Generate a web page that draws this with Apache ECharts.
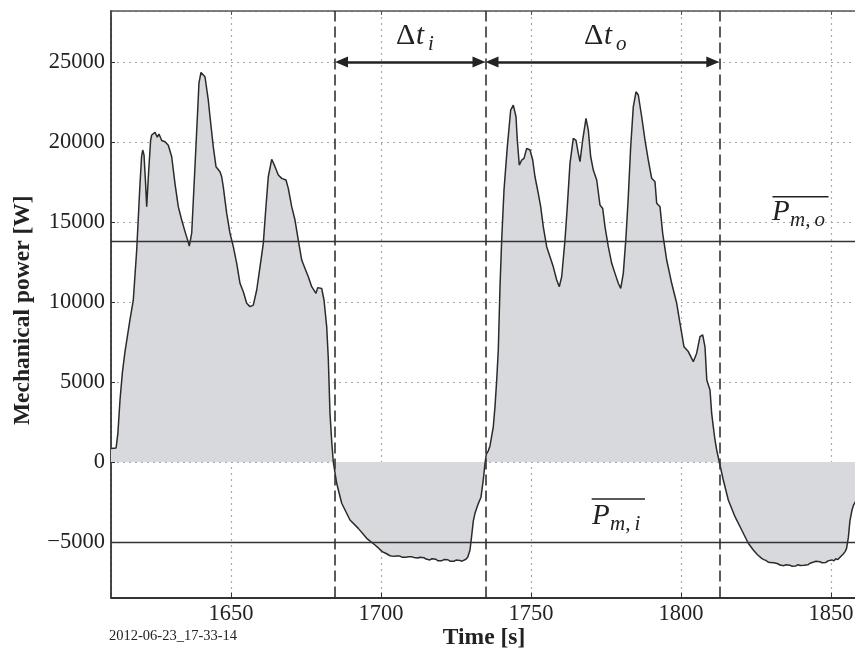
<!DOCTYPE html>
<html><head><meta charset="utf-8">
<script src="https://cdn.jsdelivr.net/npm/echarts@6/dist/echarts.min.js"></script>
<style>html,body{margin:0;padding:0;background:#fff}#c{width:855px;height:650px}</style>
</head><body><div id="c"></div>
<script>
// ---- data ----
const times = [
 1610,1611.7,1612.3,1613,1613.8,1614.67,1615.5,1616.33,1617.43,1618.57,1619.67,1620.2,1620.57,1621,1621.5,1621.9,
 1622.5,1623.2,1623.57,1624.2,1624.67,1625.43,1626.0,1626.33,1626.9,1628,1629.1,1630.23,1631.33,1632.43,1633.57,
 1634.67,1635.5,1636.1,1636.9,1638,1638.9,1639.33,1640.0,1640.43,1641.33,1642.43,1643,1644.1,1645,1646.33,1646.9,
 1647.43,1648.57,1649.67,1650.77,1651.9,1653,1654.1,1655.23,1656.33,1657.43,1658.57,1659.67,1660.77,1661.57,1662.43,
 1663.57,1664.67,1665.77,1666.9,1668.33,1669.1,1670.23,1671.33,1672.43,1673.57,1674.67,1675.77,1676.9,1678.33,
 1678.9,1679.43,1680.23,1681,1681.9,1682.43,1683,1683.6,1684.1,1685.23,1686.9,1689.67,1692.43,1695.23,
 1698,1699,1699.7,1700.4,1701,1701.7,1702.3,1703,1703.6,1704.3,1705,1705.6,1706.3,1707,1707.6,1708.3,1709,1709.6,
 1710.3,1711,1711.6,1712.3,1713,1713.6,1714.3,1715,1715.6,1716.3,1717,1717.6,1718.3,1719,1719.6,1720.3,1721,1721.6,
 1722.3,1723,1723.6,1724.3,1725,1725.6,1726.3,1727,1727.6,1728.3,1728.9,
 1729.67,1730.23,1730.77,1731.33,1732.43,1733.33,1734.1,1734.67,1735.1,1735.77,1736.33,1737.43,1738,1738.57,1739.1,
 1739.67,1740.23,1741,1742.1,1743.23,1744.1,1745,1745.43,1746.1,1746.9,1747.67,1748.57,1749.67,1750.57,1751.33,
 1752.43,1753.23,1754.1,1755.23,1756.33,1757.43,1758.57,1759.43,1760.23,1761.33,1762.1,1763,1764.1,1765,1765.77,
 1766.33,1767.23,1768.33,1769.1,1769.9,1770.77,1771.9,1773,1773.9,1774.67,1775.77,1776.9,1778,1779.1,1779.9,
 1780.77,1781.67,1782.43,1783.23,1784.1,1785,1785.77,1786.9,1788,1789.1,1790.23,1791.33,1791.9,1793,1793.9,
 1795.23,1796.9,1798.57,1799.67,1801,1802.43,1804.1,1805.23,1806.33,1807.23,1808,1808.6,1809.67,1810.23,1810.77,
 1811.33,1811.9,1812.77,1814.1,1815.77,1818,1820.23,1822.43,1824.1,1825.5,
 1826.9,1827.6,1828.3,1829,1829.7,1830.3,1831,1831.6,1832.3,1833,1833.6,1834.3,1835,1835.6,1836.3,1837,1837.6,
 1838.3,1839,1839.7,1840.3,1841,1841.6,1842.3,1843,1843.6,1844.3,1845,1845.6,1846.3,1847,1847.6,1848.3,1849,
 1849.6,1850.3,1851,1851.6,1852.3,1853,1853.6,1854.1,1854.7,1855.2,1855.8,1856.3,1857,1857.5,1858.67
];
const power = [
 850,880,1800,3875,5600,6900,7900,8900,10125,13250,17400,19100,19500,19200,17500,15960,
 18000,20100,20440,20350,20600,20300,20500,20580,20100,20020,19800,19080,17400,15960,15125,
 14400,13900,13500,14300,18500,22000,23700,24350,24460,24080,22625,21580,19700,18460,18140,17830,
 17200,15540,14290,13460,12420,11170,10640,9920,9710,9810,10750,12200,13670,15750,17830,
 18920,18460,17940,17730,17625,17100,15960,15125,13875,12625,12100,11580,10960,10540,
 10900,10960,10850,10125,8460,6500,3040,1200,0,-1330,-2580,-3625,-4150,-4770,
 -5190,-5350,-5480,-5600,-5700,-5720,-5820,-5860,-5800,-5900,-5870,-5930,-5880,-5950,-5900,-5960,-5920,-5990,
 -5930,-5970,-5910,-6000,-5950,-6050,-5980,-6070,-6000,-6120,-6050,-6150,-6080,-6180,-6090,-6170,-6100,-6190,
 -6110,-6200,-6120,-6210,-6130,-6220,-6150,-6200,-6120,-6080,-5950,
 -5500,-4600,-3700,-3200,-2600,-2200,-1100,-100,500,700,1000,2200,3460,5125,7000,
 10960,13875,17000,19700,22000,22310,21580,20125,18560,18875,18980,19600,19500,18875,17830,
 16790,15960,14700,13460,12830,12200,11375,10960,11580,13875,15960,18670,20230,20100,19290,
 18770,20125,21480,20750,19080,18250,17625,16060,15850,14700,13460,12420,11790,11170,10850,
 11790,14080,16580,19700,22200,23140,22940,21580,20125,18875,17730,17520,16170,15960,14290,
 12625,11170,9920,8670,7200,6900,6270,6800,7830,7940,7200,5125,4500,3040,2200,
 1375,750,0,-1125,-2375,-3420,-4250,-5080,-5500,-5800,
 -6020,-6100,-6150,-6250,-6290,-6330,-6300,-6400,-6360,-6440,-6400,-6480,-6420,-6510,-6450,-6520,-6440,
 -6500,-6420,-6470,-6400,-6460,-6380,-6430,-6330,-6380,-6250,-6200,-6290,-6230,-6300,-6220,-6280,-6180,
 -6240,-6120,-6180,-6050,-6100,-5950,-5900,-5750,-5600,-5400,-4700,-3700,-3000,-2700,-2300
];
const dashedTimes = [1684.67, 1734.83, 1812.77];   // interval boundaries
const meanPower = [13770, -5000];                  // mean power levels
const arrowPower = 25000;                          // level of the Δt arrows
const xRange = [1610, 1858.67];
const yRange = [-8470, 28190];

const data = times.map((t, i) => [t, power[i]]);
const inset = 6.5 / 3; // half arrow head length (px) expressed in seconds

const serif = '"Liberation Serif", "Times New Roman", serif';
const chart = echarts.init(document.getElementById('c'), null, {renderer: 'canvas'});

const dotted = {color: '#a8a8a8', width: 1.2, type: [2, 4]};

function mathText(x, y, str, size, italic) {
  return {type: 'text', x: x, y: y, silent: true,
    style: {text: str, fontSize: size, fontFamily: serif, fontStyle: italic ? 'italic' : 'normal',
      fill: '#222', verticalAlign: 'middle', align: 'left'}};
}
// baseline -> middle position
function mid(baseline, size) { return baseline - 0.32 * size; }

const graphics = [
  // Δt_i
  mathText(396, mid(45.5, 30), 'Δ', 30, false),
  mathText(416, mid(45.5, 29), 't', 29, true),
  mathText(428, mid(51.5, 21), 'i', 21, true),
  // Δt_o
  mathText(584, mid(45.5, 30), 'Δ', 30, false),
  mathText(604, mid(45.5, 29), 't', 29, true),
  mathText(616, mid(51.5, 21), 'o', 21, true),
  // P_m,o with overline
  mathText(772, mid(222, 29), 'P', 29, true),
  mathText(790, mid(227, 21), 'm,\u2009o', 21, true),
  {type: 'line', silent: true, shape: {x1: 772.5, y1: 196.7, x2: 828.5, y2: 196.7}, style: {stroke: '#222', lineWidth: 1.4}},
  // P_m,i with overline
  mathText(592, mid(526, 29), 'P', 29, true),
  mathText(610, mid(531, 21), 'm,\u2009i', 21, true),
  {type: 'line', silent: true, shape: {x1: 591.7, y1: 499, x2: 645, y2: 499}, style: {stroke: '#222', lineWidth: 1.4}},
  // E_m,o
  mathText(573, mid(345, 29), 'E', 29, true),
  mathText(593, mid(350, 21), 'm,\u2009o', 21, true),
  // E_m,i
  mathText(395, mid(513, 29), 'E', 29, true),
  mathText(413, mid(518, 21), 'm,\u2009i', 21, true),
  // run id
  {type: 'text', x: 109, y: 636, silent: true,
   style: {text: '2012-06-23_17-33-14', fontSize: 14.5, fontFamily: serif, fill: '#222', verticalAlign: 'middle'}}
];

chart.setOption({
  animation: false,
  backgroundColor: '#fff',
  grid: {left: 111, right: -2, top: 11, bottom: 52.5, containLabel: false, outerBoundsMode: 'none'},
  xAxis: [{
    type: 'value', min: xRange[0], max: xRange[1], splitNumber: 5,
    name: 'Time [s]', nameLocation: 'middle', nameGap: 28, nameMoveOverlap: false,
    nameTextStyle: {fontSize: 23.5, fontWeight: 'bold', fontFamily: serif, color: '#222'},
    axisLine: {show: true, onZero: false, lineStyle: {color: '#333', width: 1.8}},
    axisTick: {show: true, inside: true, length: 5, lineStyle: {color: '#333', width: 1}},
    axisLabel: {fontSize: 22.5, fontFamily: serif, color: '#222', margin: 5, showMinLabel: false, showMaxLabel: false,
      formatter: v => String(v)},
    splitLine: {show: true, lineStyle: dotted}
  }, {
    type: 'value', position: 'top', min: xRange[0], max: xRange[1], splitNumber: 5,
    axisLine: {show: true, onZero: false, lineStyle: {color: '#555', width: 1.6}},
    axisTick: {show: true, inside: true, length: 4, lineStyle: {color: '#555', width: 1}},
    axisLabel: {show: false}, splitLine: {show: false}
  }],
  yAxis: {
    type: 'value', min: yRange[0], max: yRange[1], splitNumber: 7,
    name: 'Mechanical power [W]', nameLocation: 'middle', nameGap: 76, nameMoveOverlap: false,
    nameTextStyle: {fontSize: 23.5, fontWeight: 'bold', fontFamily: serif, color: '#222', padding: [0, 12, 0, 0]},
    axisLine: {show: true, onZero: false, lineStyle: {color: '#333', width: 1.8}},
    axisTick: {show: true, inside: true, length: 4, lineStyle: {color: '#333', width: 1}},
    axisLabel: {fontSize: 22.5, fontFamily: serif, color: '#222', margin: 6, showMinLabel: false, showMaxLabel: false,
      formatter: v => String(v).replace('-', '\u2212')},
    splitLine: {show: true, lineStyle: dotted}
  },
  series: [{
    type: 'line', data: data, symbol: 'none', silent: true,
    lineStyle: {color: '#2b2b2b', width: 1.5},
    areaStyle: {color: '#d8d9dc', opacity: 1, origin: 0},
    markLine: {
      silent: true, symbol: 'none', animation: false,
      label: {show: false},
      data: [
        ...dashedTimes.map(t => ({xAxis: t, lineStyle: {color: '#333', width: 1.6, type: [11, 5]}})),
        ...meanPower.map(p => ({yAxis: p, lineStyle: {color: '#333', width: 1.3, type: 'solid'}}))
      ]
    }
  }, {
    type: 'line', data: [], symbol: 'none', silent: true,
    markLine: {
      silent: true, animation: false, symbol: ['triangle', 'triangle'], symbolSize: [11, 13],
      label: {show: false},
      lineStyle: {color: '#222', width: 2.6, type: 'solid'},
      data: [
        [{coord: [dashedTimes[0] + inset, arrowPower]}, {coord: [dashedTimes[1] - inset, arrowPower]}],
        [{coord: [dashedTimes[1] + inset, arrowPower]}, {coord: [dashedTimes[2] - inset, arrowPower]}]
      ]
    }
  }],
  graphic: graphics
});
</script>
</body></html>
